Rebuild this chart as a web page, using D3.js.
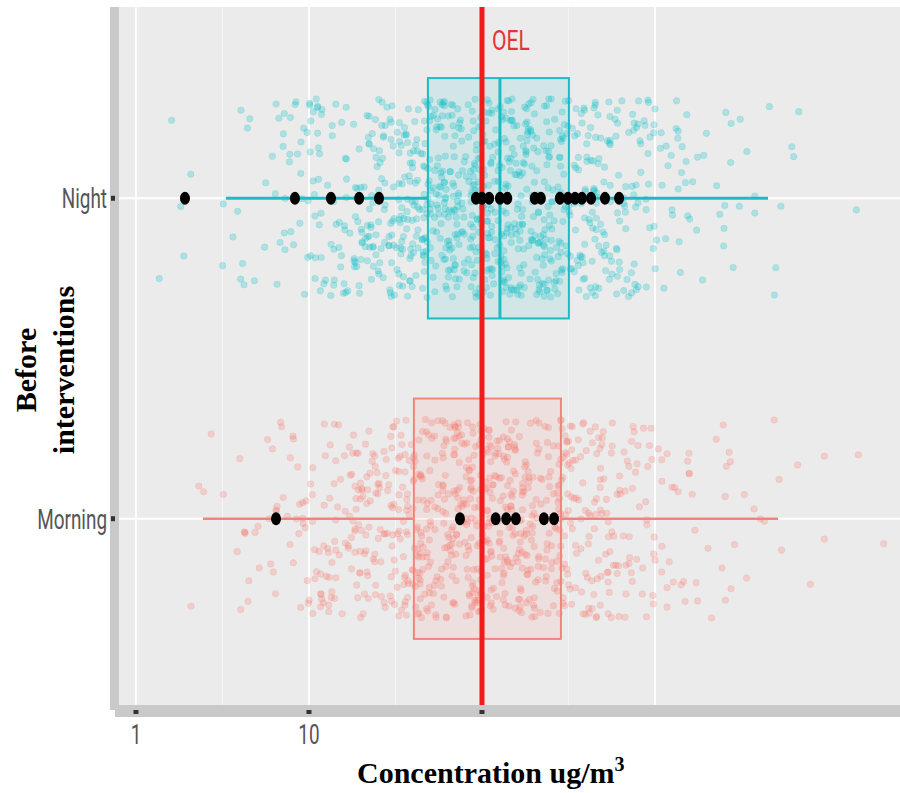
<!DOCTYPE html>
<html>
<head>
<meta charset="utf-8">
<script src="https://cdn.jsdelivr.net/npm/d3@7/dist/d3.min.js"></script>
<style>
  html, body { margin: 0; padding: 0; background: #ffffff; }
  svg { display: block; }
</style>
</head>
<body>
<svg id="chart" width="900" height="793"></svg>
<script>
// ---------------- DATA ----------------
const categories = ["Morning", "Night"];
const groupColors = ["#F8766D", "#00BFC4"];

// Box-plot statistics (ug/m3)
const whiskerLow  = [2.44, 3.31];
const q1          = [40.4, 48.7];
const median      = [101, 127];
const q3          = [286, 318];
const whiskerHigh = [5140, 4500];

// Measured samples (black dots)
const morningSamples = [6.45, 74.6, 120, 138, 157, 228, 261];
const nightSamples   = [1.92, 8.3, 13.4, 19.5, 25.4, 92.3, 100, 110, 127, 140, 202, 219, 282, 314, 345, 378, 427, 514, 620];

// Simulated (jittered) points: counts per quarter-decade bin, starting at log10 = 0
const binStartLog = 0;
const binWidthLog = 0.25;
const morningBinCounts = [0, 4, 12, 30, 55, 85, 120, 140, 140, 115, 80, 50, 25, 12, 8, 4, 1, 1];
const nightBinCounts   = [2, 3, 12, 30, 55, 90, 130, 150, 150, 130, 95, 60, 30, 14, 7, 3, 1, 0];

// Occupational exposure limit
const oelValue = 100;
const oelLabel = "OEL";

// Axis
const xTickValues = [1, 10, 100];
const xTickLabels = ["1", "10", ""];
const xMajorGrid = [1, 10, 100, 1000];
const xMinorGrid = [3.1623, 31.623, 316.23];
const xTitle = "Concentration ug/m";
const xTitleSup = "3";
const yTitleLines = ["Before", "interventions"];

// ---------------- LAYOUT ----------------
const svg = d3.select("#chart");
const panel = { left: 119, top: 7, right: 900, bottom: 705 };

const x = d3.scaleLog().domain([0.798, 26070]).range([panel.left, panel.right]);
const y = d3.scalePoint().domain(categories).range([711, 6]).padding(0.6);
const step = y.step();
const boxHalf = step * 0.375;
const jitterHalf = step * 0.31;

// deterministic scatter of positions inside each bin (layout only)
function hash(k, s) {
  const v = Math.sin(k * 12.9898 + s * 78.233) * 43758.5453;
  return v - Math.floor(v);
}

// shadow strips (left / bottom)
svg.append("rect").attr("x", 110).attr("y", panel.top).attr("width", 9).attr("height", panel.bottom - panel.top + 5).attr("fill", "#c9c9c9");
svg.append("rect").attr("x", 115).attr("y", panel.bottom).attr("width", 900 - 115).attr("height", 12).attr("fill", "#c9c9c9");

// panel background
svg.append("rect").attr("x", panel.left).attr("y", panel.top)
  .attr("width", panel.right - panel.left).attr("height", panel.bottom - panel.top)
  .attr("fill", "#ebebeb");

const grid = svg.append("g");
grid.selectAll(".minor").data(xMinorGrid).join("line")
  .attr("x1", d => x(d)).attr("x2", d => x(d))
  .attr("y1", panel.top).attr("y2", panel.bottom)
  .attr("stroke", "#f5f5f5").attr("stroke-width", 1);
grid.selectAll(".major").data(xMajorGrid).join("line")
  .attr("x1", d => x(d)).attr("x2", d => x(d))
  .attr("y1", panel.top).attr("y2", panel.bottom)
  .attr("stroke", "#ffffff").attr("stroke-width", 1.8);
grid.selectAll(".hmajor").data(categories).join("line")
  .attr("x1", panel.left).attr("x2", panel.right)
  .attr("y1", d => y(d)).attr("y2", d => y(d))
  .attr("stroke", "#ffffff").attr("stroke-width", 2);

// box fills
categories.forEach((c, i) => {
  svg.append("rect")
    .attr("x", x(q1[i])).attr("y", y(c) - boxHalf)
    .attr("width", x(q3[i]) - x(q1[i])).attr("height", 2 * boxHalf)
    .attr("fill", groupColors[i]).attr("fill-opacity", 0.1);
});

// jittered points
const binCounts = [morningBinCounts, nightBinCounts];
categories.forEach((c, i) => {
  const pts = [];
  let k = 0;
  binCounts[i].forEach((n, b) => {
    for (let j = 0; j < n; j++) {
      k++;
      const u = hash(k, 1 + i * 3);
      const w = hash(k, 2 + i * 5);
      const lv = binStartLog + binWidthLog * (b + u);
      pts.push({ v: Math.pow(10, lv), dy: (w - 0.5) * 2 * jitterHalf });
    }
  });
  svg.append("g").selectAll("circle").data(pts).join("circle")
    .attr("cx", d => x(d.v)).attr("cy", d => y(c) + d.dy).attr("r", 3.3)
    .attr("fill", groupColors[i]).attr("fill-opacity", 0.26)
    .attr("stroke", groupColors[i]).attr("stroke-opacity", 0.12).attr("stroke-width", 1);
});

// box outlines, medians, whiskers
const strokeCols = ["#f2847e", "#1dbcc2"];
categories.forEach((c, i) => {
  const g = svg.append("g").attr("stroke", strokeCols[i]).attr("fill", "none");
  g.append("rect")
    .attr("x", x(q1[i])).attr("y", y(c) - boxHalf)
    .attr("width", x(q3[i]) - x(q1[i])).attr("height", 2 * boxHalf)
    .attr("stroke-width", 2);
  g.append("line").attr("x1", x(median[i])).attr("x2", x(median[i]))
    .attr("y1", y(c) - boxHalf).attr("y2", y(c) + boxHalf).attr("stroke-width", 3);
  g.append("line").attr("x1", x(whiskerLow[i])).attr("x2", x(q1[i]))
    .attr("y1", y(c)).attr("y2", y(c)).attr("stroke-width", i === 1 ? 3 : 2.5);
  g.append("line").attr("x1", x(q3[i])).attr("x2", x(whiskerHigh[i]))
    .attr("y1", y(c)).attr("y2", y(c)).attr("stroke-width", i === 1 ? 3 : 2.5);
});

// OEL line
svg.append("line").attr("x1", x(oelValue)).attr("x2", x(oelValue))
  .attr("y1", panel.top).attr("y2", panel.bottom)
  .attr("stroke", "#f21b1b").attr("stroke-width", 5);

// black sample dots
const samples = [morningSamples, nightSamples];
categories.forEach((c, i) => {
  svg.append("g").selectAll("ellipse").data(samples[i]).join("ellipse")
    .attr("cx", d => x(d)).attr("cy", y(c)).attr("rx", 5).attr("ry", 6.5)
    .attr("fill", "#000000");
});

// condensed text helper
function condense(sel, f) {
  sel.each(function() {
    const len = this.getComputedTextLength();
    d3.select(this).attr("textLength", len * f).attr("lengthAdjust", "spacingAndGlyphs");
  });
}

// OEL label
svg.append("text").attr("x", x(oelValue) + 10).attr("y", 50)
  .attr("font-family", "Roboto, sans-serif").attr("font-size", 27)
  .attr("fill", "#e33338").text(oelLabel).call(condense, 0.78);

// x ticks
svg.append("g").selectAll("rect").data(xTickValues).join("rect")
  .attr("x", d => x(d) - 2.5).attr("y", 710).attr("width", 5).attr("height", 4)
  .attr("fill", "#333333");
svg.append("g").selectAll("text").data(xTickValues).join("text")
  .attr("x", d => x(d)).attr("y", 744).attr("text-anchor", "middle")
  .attr("font-family", "Roboto, sans-serif").attr("font-size", 27)
  .attr("fill", "#555555").text((d, i) => xTickLabels[i])
  .call(condense, 0.7);

// y ticks
svg.append("g").selectAll("rect").data(categories).join("rect")
  .attr("x", 111).attr("y", d => y(d) - 2.5).attr("width", 4).attr("height", 5)
  .attr("fill", "#333333");
svg.append("g").selectAll("text").data(categories).join("text")
  .attr("x", 107).attr("y", d => y(d) + 10).attr("text-anchor", "end")
  .attr("font-family", "Roboto, sans-serif").attr("font-size", 27)
  .attr("fill", "#555555").text(d => d)
  .call(condense, 0.7);

// x title
const xt = svg.append("text").attr("x", 357).attr("y", 783)
  .attr("font-family", "'Liberation Serif', 'Times New Roman', serif")
  .attr("font-weight", "bold").attr("font-size", 30).attr("fill", "#000");
xt.append("tspan").text(xTitle);
xt.append("tspan").attr("dy", -12).attr("font-size", 20).text(xTitleSup);

// y title
yTitleLines.forEach((t, i) => {
  svg.append("text")
    .attr("transform", `translate(${36 + i * 38},370) rotate(-90)`)
    .attr("text-anchor", "middle")
    .attr("font-family", "'Liberation Serif', 'Times New Roman', serif")
    .attr("font-weight", "bold").attr("font-size", 30).attr("fill", "#000")
    .text(t);
});
</script>
</body>
</html>
